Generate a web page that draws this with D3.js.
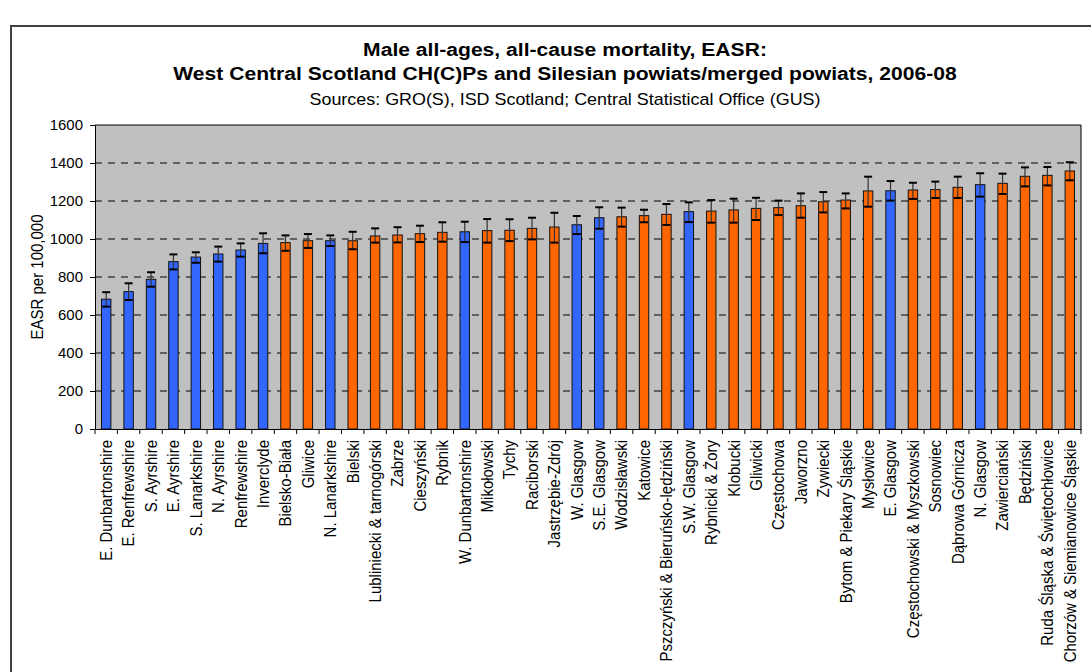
<!DOCTYPE html>
<html><head><meta charset="utf-8">
<script src="https://cdn.jsdelivr.net/npm/d3@7/dist/d3.min.js"></script>
<style>
html,body{margin:0;padding:0;background:#fff;}
svg{display:block;font-family:"Liberation Sans",Arial,sans-serif;}
</style></head><body>
<svg id="chart" width="1091" height="672"></svg>
<script>
const categories = ["E. Dunbartonshire","E. Renfrewshire","S. Ayrshire","E. Ayrshire","S. Lanarkshire","N. Ayrshire","Renfrewshire","Inverclyde","Bielsko-Biała","Gliwice","N. Lanarkshire","Bielski","Lubliniecki & tarnogórski","Zabrze","Cieszyński","Rybnik","W. Dunbartonshire","Mikołowski","Tychy","Raciborski","Jastrzębie-Zdrój","W. Glasgow","S.E. Glasgow","Wodzisławski","Katowice","Pszczyński & Bieruńsko-lędziński","S.W. Glasgow","Rybnicki & Żory","Klobucki","Gliwicki","Częstochowa","Jaworzno","Zywiecki","Bytom & Piekary Śląskie","Mysłowice","E. Glasgow","Częstochowski & Myszkowski","Sosnowiec","Dąbrowa Górnicza","N. Glasgow","Zawierciański","Będziński","Ruda Śląska & Świętochłowice","Chorzów & Siemianowice Śląskie"];
const country = ["Scotland","Scotland","Scotland","Scotland","Scotland","Scotland","Scotland","Scotland","Silesia","Silesia","Scotland","Silesia","Silesia","Silesia","Silesia","Silesia","Scotland","Silesia","Silesia","Silesia","Silesia","Scotland","Scotland","Silesia","Silesia","Silesia","Scotland","Silesia","Silesia","Silesia","Silesia","Silesia","Silesia","Silesia","Silesia","Scotland","Silesia","Silesia","Silesia","Scotland","Silesia","Silesia","Silesia","Silesia"];
const easr   = [683,723,788,881,905,921,942,977,981,991,991,991,1016,1021,1028,1035,1038,1044,1046,1056,1063,1075,1112,1117,1123,1130,1144,1147,1153,1161,1165,1175,1196,1205,1253,1254,1258,1260,1272,1286,1293,1330,1335,1358];
const ciLow  = [644,679,749,840,875,881,907,925,938,953,963,946,981,982,984,986,984,981,989,998,981,1026,1054,1065,1088,1074,1089,1086,1086,1100,1126,1112,1140,1161,1170,1202,1211,1216,1216,1223,1237,1277,1282,1309];
const ciHigh = [720,767,825,919,930,960,977,1030,1019,1026,1019,1038,1056,1062,1070,1088,1091,1105,1104,1112,1138,1121,1167,1165,1154,1184,1193,1205,1212,1217,1202,1240,1247,1240,1328,1305,1296,1302,1328,1346,1344,1377,1379,1404];
const yTicks = [0,200,400,600,800,1000,1200,1400,1600];
const titleLines = ["Male all-ages, all-cause mortality, EASR:","West Central Scotland CH(C)Ps and Silesian powiats/merged powiats, 2006-08"];
const subtitle = "Sources: GRO(S), ISD Scotland; Central Statistical Office (GUS)";
const yTitle = "EASR per 100,000";
const colors = {Scotland:"#3366FF", Silesia:"#FF6600"};

const svg = d3.select("#chart");
const P = {left:95, right:1081, top:125, bottom:429};
const SX = 1.12; // horizontal stretch of the original picture's text

// outer frame
svg.append("rect").attr("x",11).attr("y",26).attr("width",1200).attr("height",800)
  .attr("fill","#fff").attr("stroke","#404040").attr("stroke-width",2);

const x = d3.scaleBand().domain(categories).range([P.left,P.right]).paddingInner(0.58).paddingOuter(0.29);
const y = d3.scaleLinear().domain([0,1600]).range([P.bottom,P.top]);
const band = (P.right-P.left)/categories.length;

// plot background
svg.append("rect").attr("x",P.left).attr("y",P.top).attr("width",P.right-P.left).attr("height",P.bottom-P.top).attr("fill","#C0C0C0");

// gridlines
svg.append("g").selectAll("line").data(yTicks.filter(v=>v>0&&v<1600)).join("line")
  .attr("x1",P.left).attr("x2",P.right).attr("y1",d=>y(d)).attr("y2",d=>y(d))
  .attr("stroke","#000").attr("stroke-width",1).attr("stroke-dasharray","7,6");

// frame top/right
svg.append("path").attr("d",`M${P.left},${P.top}H${P.right}V${P.bottom}`).attr("fill","none").attr("stroke","#000").attr("stroke-width",1);

const data = categories.map((c,i)=>({c, v:easr[i], lo:ciLow[i], hi:ciHigh[i], k:country[i]}));

// bars
svg.append("g").selectAll("rect").data(data).join("rect")
  .attr("x",d=>x(d.c)).attr("width",x.bandwidth())
  .attr("y",d=>y(d.v)).attr("height",d=>y(0)-y(d.v))
  .attr("fill",d=>colors[d.k]).attr("stroke","#111").attr("stroke-width",1);

// error bars
const eb = svg.append("g");
const capW = x.bandwidth()*0.85;
data.forEach(d=>{
  const cx = x(d.c)+x.bandwidth()/2;
  eb.append("line").attr("x1",cx).attr("x2",cx).attr("y1",y(d.hi)).attr("y2",y(d.lo)).attr("stroke","#333").attr("stroke-width",1.2);
  eb.append("line").attr("x1",cx-capW/2).attr("x2",cx+capW/2).attr("y1",y(d.hi)).attr("y2",y(d.hi)).attr("stroke","#000").attr("stroke-width",2);
  eb.append("line").attr("x1",cx-capW/2).attr("x2",cx+capW/2).attr("y1",y(d.lo)).attr("y2",y(d.lo)).attr("stroke","#000").attr("stroke-width",2);
});

// y axis
const ya = svg.append("g").attr("transform",`translate(${P.left},0)`)
  .call(d3.axisLeft(y).tickValues(yTicks).tickFormat(d3.format("d")).tickSize(5).tickPadding(7).tickSizeOuter(0));
ya.select(".domain").attr("stroke","#000");
ya.selectAll(".tick line").attr("stroke","#000");
ya.selectAll(".tick text").attr("font-size","14px").attr("fill","#000")
  .attr("font-family","Liberation Sans, Arial, sans-serif")
  .attr("x",null).attr("transform","translate(-12,0) scale(1.07,1)");

// x axis
const xa = svg.append("g").attr("transform",`translate(0,${P.bottom})`)
  .call(d3.axisBottom(x).tickSize(0).tickPadding(0).tickSizeOuter(0));
xa.select(".domain").attr("stroke","#000");
xa.selectAll(".tick text")
  .attr("transform",`translate(0,11) scale(${SX},1) rotate(-90)`)
  .attr("x",0).attr("y",0).attr("dy","0.35em")
  .attr("text-anchor","end").attr("font-size","15px").attr("fill","#000")
  .attr("font-family","Liberation Sans, Arial, sans-serif");
// boundary ticks
xa.append("g").selectAll("line").data(d3.range(categories.length+1)).join("line")
  .attr("x1",i=>P.left+i*band).attr("x2",i=>P.left+i*band).attr("y1",0).attr("y2",5).attr("stroke","#000");

// y title
svg.append("text").attr("transform",`translate(43,${(P.top+P.bottom)/2}) scale(${SX},1) rotate(-90)`)
  .attr("text-anchor","middle").attr("font-size","15px").text(yTitle);

// titles
const tcx = 565;
svg.append("text").attr("transform",`translate(${tcx},56) scale(1.11,1)`).attr("text-anchor","middle").attr("font-weight","bold").attr("font-size","19px").text(titleLines[0]);
svg.append("text").attr("transform",`translate(${tcx},80) scale(1.11,1)`).attr("text-anchor","middle").attr("font-weight","bold").attr("font-size","19px").text(titleLines[1]);
svg.append("text").attr("transform",`translate(${tcx},105) scale(1.12,1)`).attr("text-anchor","middle").attr("font-size","16px").text(subtitle);
</script>
</body></html>
